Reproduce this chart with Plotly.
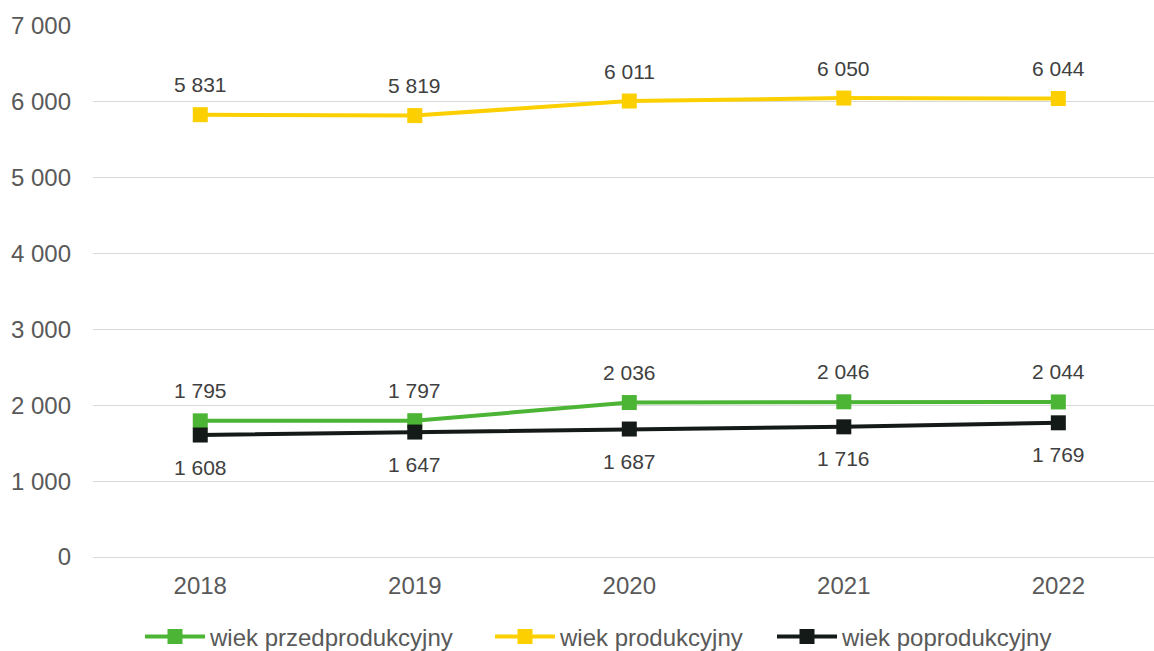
import plotly.graph_objects as go

years = ["2018", "2019", "2020", "2021", "2022"]
przed = [1795, 1797, 2036, 2046, 2044]
prod = [5831, 5819, 6011, 6050, 6044]
poprod = [1608, 1647, 1687, 1716, 1769]
y_ticks = [0, 1000, 2000, 3000, 4000, 5000, 6000, 7000]

def fmt(v):
    return f"{v:,}".replace(",", " ")

series = [
    ("wiek przedprodukcyjny", przed, "#4CB535", 30, "legend", 145),
    ("wiek produkcyjny", prod, "#FCD000", 30, "legend2", 495),
    ("wiek poprodukcyjny", poprod, "#141A18", -32, "legend3", 777),
]

FONT = "Liberation Sans, Arial"
fig = go.Figure()
annotations = []
legends = {}
for name, vals, color, shift, leg, lx in series:
    fig.add_trace(go.Scatter(
        x=years, y=vals, name=name, mode="lines+markers",
        line=dict(color=color, width=4),
        marker=dict(symbol="square", size=15, color=color),
        cliponaxis=False, legend=leg,
    ))
    legends[leg] = dict(
        orientation="h", xref="container", x=(lx - 5) / 1154, xanchor="left",
        yref="container", y=1 - 637 / 651, yanchor="middle",
        font=dict(family=FONT, size=24, color="#595959"), itemwidth=60,
        bgcolor="rgba(0,0,0,0)",
    )
    for i, v in enumerate(vals):
        annotations.append(dict(
            x=i, y=v, xref="x", yref="y", text=fmt(v), showarrow=False,
            yshift=shift, font=dict(family=FONT, size=21, color="#404040"),
        ))

fig.update_layout(
    width=1154, height=651,
    margin=dict(l=93, r=0, t=26, b=94),
    plot_bgcolor="white", paper_bgcolor="white",
    font=dict(family=FONT, size=24, color="#595959"),
    showlegend=True,
    annotations=annotations,
    xaxis=dict(type="category", range=[-0.5, 4.446], showgrid=False, showline=False, ticks="",
               automargin=False, ticklabelstandoff=12,
               tickfont=dict(family=FONT, size=24, color="#595959")),
    yaxis=dict(range=[0, 7000], tickvals=y_ticks, ticktext=[fmt(v) for v in y_ticks],
               showgrid=True, gridcolor="#D9D9D9", gridwidth=1, zeroline=True,
               zerolinecolor="#D9D9D9", zerolinewidth=1, showline=False, ticks="",
               automargin=False, ticklabelstandoff=21,
               tickfont=dict(family=FONT, size=24, color="#595959")),
    **legends,
)

fig.write_html("out.html", config={"displayModeBar": False},
               post_script="document.body.style.margin='0';")
